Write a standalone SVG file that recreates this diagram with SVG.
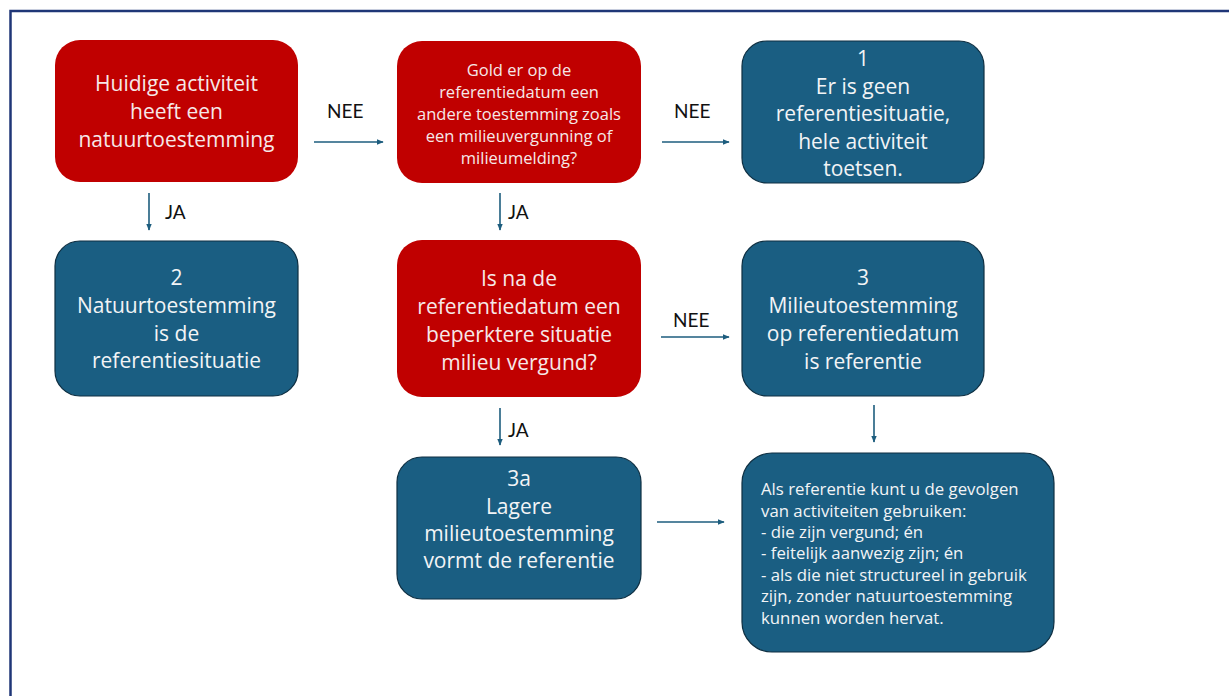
<svg xmlns="http://www.w3.org/2000/svg" width="1229" height="696" viewBox="0 0 1229 696">
  <defs>
    <marker id="arr" viewBox="0 0 10 10" refX="9" refY="5" markerWidth="4.5" markerHeight="4.5" orient="auto" markerUnits="strokeWidth">
      <path d="M0,1 L10,5 L0,9 Z" fill="#1d5d7e"/>
    </marker>
    <style>
      .red { fill: #c00000; }
      .blue { fill: #1a5e82; stroke: #0e2f42; stroke-width: 1.2; }
      .t { font-family: "Open Sans", "Liberation Sans", sans-serif; font-size: 21px; text-anchor: middle; }
      .tr { fill: #f6e8e8; }
      .tb { fill: #f2f4f6; }
      .small { font-size: 16.5px; }
      .note { font-family: "Open Sans", "Liberation Sans", sans-serif; font-size: 16.8px; fill: #f2f4f6; }
      .lbl { font-family: "Lato", "Liberation Sans", sans-serif; font-size: 19px; fill: #111; }
      .conn { stroke: #1d5d7e; stroke-width: 1.6; fill: none; marker-end: url(#arr); }
    </style>
  </defs>
  <rect x="0" y="0" width="1229" height="696" fill="#ffffff"/>
  <rect x="10.5" y="11" width="1240" height="720" fill="none" stroke="#1f3677" stroke-width="2.5"/>

  <g id="connectors">
    <line class="conn" x1="314" y1="142" x2="383" y2="142"/>
    <text class="lbl" x="327" y="118">NEE</text>
    <line class="conn" x1="149" y1="193" x2="149" y2="230"/>
    <text class="lbl" x="165" y="219">JA</text>
    <line class="conn" x1="662" y1="142" x2="729" y2="142"/>
    <text class="lbl" x="674" y="118">NEE</text>
    <line class="conn" x1="500" y1="193" x2="500" y2="230"/>
    <text class="lbl" x="508" y="219">JA</text>
    <line class="conn" x1="661" y1="337" x2="729" y2="337"/>
    <text class="lbl" x="673" y="327">NEE</text>
    <line class="conn" x1="500" y1="408" x2="500" y2="445"/>
    <text class="lbl" x="508" y="437">JA</text>
    <line class="conn" x1="874" y1="405" x2="874" y2="442"/>
    <line class="conn" x1="657" y1="522" x2="724" y2="522"/>
  </g>

  <g id="node-huidige">
    <rect class="red" x="55" y="40" width="243" height="142" rx="25"/>
    <text class="t tr"><tspan x="176.5" y="91">Huidige activiteit</tspan><tspan x="176.5" y="119">heeft een</tspan><tspan x="176.5" y="147">natuurtoestemming</tspan></text>
  </g>

  <g id="node-gold">
    <rect class="red" x="397" y="41" width="244" height="142" rx="25"/>
    <text class="t tr small"><tspan x="519" y="76">Gold er op de</tspan><tspan x="519" y="98">referentiedatum een</tspan><tspan x="519" y="120">andere toestemming zoals</tspan><tspan x="519" y="142">een milieuvergunning of</tspan><tspan x="519" y="164">milieumelding?</tspan></text>
  </g>

  <g id="node-1">
    <rect class="blue" x="742" y="41" width="242" height="142" rx="25"/>
    <text class="t tb"><tspan x="863" y="66">1</tspan><tspan x="863" y="93.5">Er is geen</tspan><tspan x="863" y="121">referentiesituatie,</tspan><tspan x="863" y="148.5">hele activiteit</tspan><tspan x="863" y="176">toetsen.</tspan></text>
  </g>

  <g id="node-2">
    <rect class="blue" x="55" y="241" width="243" height="155" rx="25"/>
    <text class="t tb"><tspan x="176.5" y="285">2</tspan><tspan x="176.5" y="313">Natuurtoestemming</tspan><tspan x="176.5" y="341">is de</tspan><tspan x="176.5" y="368">referentiesituatie</tspan></text>
  </g>

  <g id="node-isna">
    <rect class="red" x="397" y="240" width="244" height="157" rx="25"/>
    <text class="t tr"><tspan x="519" y="286">Is na de</tspan><tspan x="519" y="314">referentiedatum een</tspan><tspan x="519" y="342">beperktere situatie</tspan><tspan x="519" y="370">milieu vergund?</tspan></text>
  </g>

  <g id="node-3">
    <rect class="blue" x="742" y="241" width="242" height="155" rx="25"/>
    <text class="t tb"><tspan x="863" y="285">3</tspan><tspan x="863" y="313">Milieutoestemming</tspan><tspan x="863" y="341">op referentiedatum</tspan><tspan x="863" y="369">is referentie</tspan></text>
  </g>

  <g id="node-3a">
    <rect class="blue" x="397" y="457" width="244" height="142" rx="25"/>
    <text class="t tb"><tspan x="519" y="486">3a</tspan><tspan x="519" y="514">Lagere</tspan><tspan x="519" y="541">milieutoestemming</tspan><tspan x="519" y="568">vormt de referentie</tspan></text>
  </g>

  <g id="node-als">
    <rect class="blue" x="742" y="453" width="312" height="199" rx="30"/>
    <text class="note"><tspan x="761" y="495">Als referentie kunt u de gevolgen</tspan><tspan x="761" y="517">van activiteiten gebruiken:</tspan><tspan x="761" y="538">- die zijn vergund; én</tspan><tspan x="761" y="559">- feitelijk aanwezig zijn; én</tspan><tspan x="761" y="581">- als die niet structureel in gebruik</tspan><tspan x="761" y="602">zijn, zonder natuurtoestemming</tspan><tspan x="761" y="624">kunnen worden hervat.</tspan></text>
  </g>
</svg>
